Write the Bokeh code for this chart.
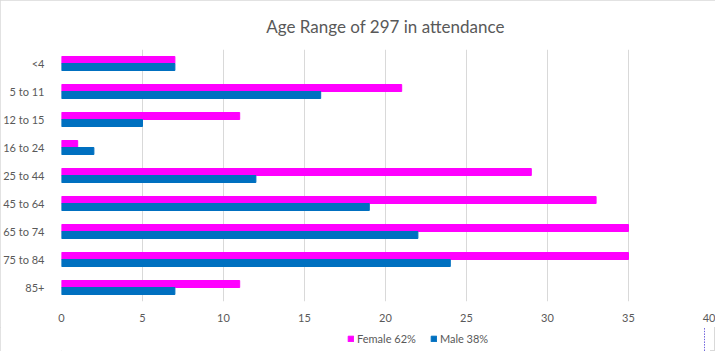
from bokeh.plotting import figure
from bokeh.models import ColumnDataSource, FactorRange, Range1d, Legend, LegendItem, FixedTicker
from bokeh.layouts import column
from bokeh.transform import dodge
from bokeh.embed import file_html
from bokeh.resources import INLINE

categories = ["<4", "5 to 11", "12 to 15", "16 to 24", "25 to 44", "45 to 64", "65 to 74", "75 to 84", "85+"]
female = [7, 21, 11, 1, 29, 33, 35, 35, 11]
male = [7, 16, 5, 2, 12, 19, 22, 24, 7]
x_ticks = [0, 5, 10, 15, 20, 25, 30, 35, 40]
title_text = "Age Range of 297 in attendance"
female_label = "Female 62%"
male_label = "Male 38%"

FEMALE_COLOR = "#FF00FF"
MALE_COLOR = "#0070C0"
FONT = "Lato"
GRAY = "#595959"

src = ColumnDataSource(dict(cat=categories, female=female, male=male))

p = figure(frame_width=648, frame_height=252, output_backend="svg", toolbar_location=None,
           y_range=FactorRange(factors=list(reversed(categories)), range_padding=0),
           x_range=Range1d(0, 40),
           min_border_left=56, min_border_right=6, min_border_top=3, min_border_bottom=26)

p.title.text = title_text
p.title.align = "center"
p.title.text_font = FONT
p.title.text_font_size = "17px"
p.title.text_font_style = "normal"
p.title.text_color = GRAY
p.title.standoff = 26

p.hbar(y=dodge("cat", 0.125, range=p.y_range), right="female", left=0, height=0.25,
       source=src, color=FEMALE_COLOR)
p.hbar(y=dodge("cat", -0.125, range=p.y_range), right="male", left=0, height=0.25,
       source=src, color=MALE_COLOR)

p.xaxis.ticker = FixedTicker(ticks=x_ticks)
for ax in (p.xaxis, p.yaxis):
    ax.axis_line_color = None
    ax.major_tick_line_color = None
    ax.minor_tick_line_color = None
    ax.major_label_text_font = FONT
    ax.major_label_text_font_size = "11px"
    ax.major_label_text_color = GRAY
p.xaxis.major_label_standoff = 6
p.yaxis.major_label_standoff = 11

p.ygrid.grid_line_color = None
p.xgrid.grid_line_color = "#d9d9d9"
p.outline_line_color = None

# legend strip below the chart (its bars lie outside its visible x range)
q = figure(width=710, height=24, output_backend="svg", toolbar_location=None,
           x_range=Range1d(-2, -1), y_range=FactorRange(factors=list(reversed(categories))),
           x_axis_location=None, y_axis_location=None, min_border=0)
q.grid.visible = False
q.outline_line_color = None
lf = q.hbar(y="cat", right="female", left=0, height=0.25, source=src, color=FEMALE_COLOR)
lm = q.hbar(y="cat", right="male", left=0, height=0.25, source=src, color=MALE_COLOR)

legend = Legend(items=[LegendItem(label=female_label, renderers=[lf]),
                       LegendItem(label=male_label, renderers=[lm])],
                orientation="horizontal", location=(286, 6),
                label_text_font=FONT, label_text_font_size="11px", label_text_color=GRAY,
                glyph_width=7, glyph_height=7, label_standoff=3, spacing=14,
                label_height=12, padding=0, margin=0, border_line_color=None,
                background_fill_alpha=0)
q.add_layout(legend)

layout = column(p, q, spacing=0)
layout.styles = {"outline": "1px solid #d9d9d9", "outline-offset": "-1px"}

open("out.html", "w").write(file_html(layout, INLINE))
